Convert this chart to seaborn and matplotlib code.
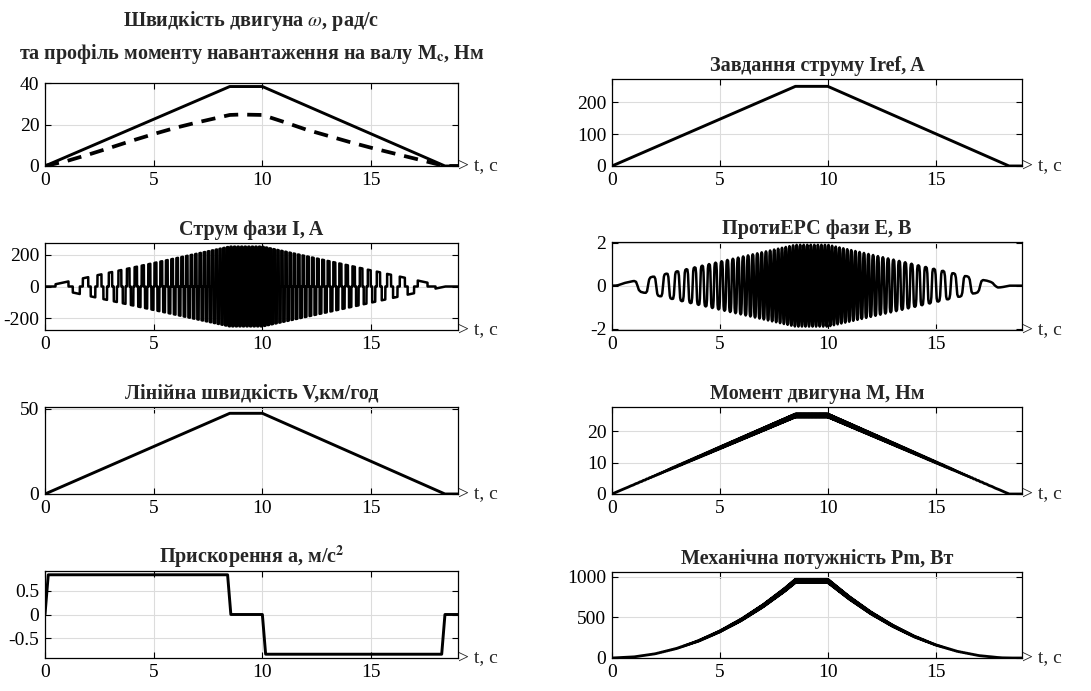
import numpy as np
import pandas as pd
import matplotlib
matplotlib.use("Agg")
import matplotlib.pyplot as plt
from matplotlib.ticker import FormatStrFormatter
import seaborn as sns

# ---------------- data ----------------
# drive-cycle breakpoints (s)
t_prof = [0.0, 8.5, 10.0, 18.4, 19.0]
omega_prof = [0.0, 38.3, 38.3, 0.0, 0.0]      # motor speed, rad/s
iref_prof = [0.0, 249.0, 249.0, 0.0, 0.0]     # current reference, A
v_prof = [0.0, 47.3, 47.3, 0.0, 0.0]          # linear speed, km/h
m_prof = [0.0, 25.0, 25.0, 0.0, 0.0]          # motor torque, Nm

# load torque profile Mc (dashed)
t_mc = [0, 1, 2, 3, 4, 5, 6, 7, 8, 8.5, 9, 10, 11, 12, 13, 14, 15, 16, 17, 18, 18.4, 19]
mc = [0, 2.4, 5.5, 8.8, 12.2, 15.4, 18.4, 21.0, 23.4, 24.6, 24.8, 24.6, 21.2, 17.6, 14.6,
      11.6, 8.8, 6.2, 3.6, 1.0, 0, 0]

# acceleration
t_acc = [0, 0.15, 8.4, 8.55, 10.0, 10.15, 18.25, 18.4, 19.0]
acc = [0, 0.84, 0.84, 0, 0, -0.84, -0.84, 0, 0]

# mechanical power
t_pm = [0, 1, 2, 3, 4, 5, 6, 7, 8, 8.5, 10, 11, 12, 13, 14, 15, 16, 17, 18, 18.4, 19]
pm = [0, 13, 52, 118, 210, 328, 472, 643, 840, 950, 950, 740, 555, 398, 266, 161, 82, 30, 3, 0, 0]

# six-step commutation: phase current level per 60-degree sector (starting at 30 deg)
sector_current = [1, 1, 0, -1, -1, 0]
# back-EMF (rounded trapezoid) shape over one electrical period
emf_deg = [0, 20, 45, 90, 135, 160, 180, 200, 225, 270, 315, 340, 360]
emf_shape = [0, 0.72, 0.96, 1, 0.96, 0.72, 0, -0.72, -0.96, -1, -0.96, -0.72, 0]
emf_peak = 1.9            # V at maximum speed
torque_ripple = 0.02      # relative
power_ripple = 0.022      # relative
ripple_deg = [0, 30, 60]
ripple_shape = [-1, 1, -1]

titles = [
    "Швидкість двигуна $\\omega$, рад/с\nта профіль моменту навантаження на валу M$_\\mathbf{c}$, Нм",
    "Завдання струму Iref, A",
    "Струм фази I, A",
    "ПротиЕРС фази E, B",
    "Лінійна швидкість V,км/год",
    "Момент двигуна M, Нм",
    "Прискорення a, м/с$^\\mathbf{2}$",
    "Механічна потужність Pm, Вт",
]

# ---------------- derived signals ----------------
t = np.linspace(0, 19, 40001)
w = np.interp(t, t_prof, omega_prof)
iref_t = np.interp(t, t_prof, iref_prof)
theta = np.concatenate([[0], np.cumsum(0.5 * (w[1:] + w[:-1]) * np.diff(t))])
deg = np.degrees(theta)
sector = (np.floor(((deg - 30) % 360) / 60)).astype(int)
i_phase = iref_t * np.array(sector_current)[sector]
e_phase = emf_peak * w / max(omega_prof) * np.interp(deg % 360, emf_deg, emf_shape)
rip = np.interp(deg % 60, ripple_deg, ripple_shape)
m_t = np.interp(t, t_prof, m_prof) * (1 + torque_ripple * rip)
pm_t = np.interp(t, t_pm, pm) * (1 + power_ripple * rip)

# ---------------- style ----------------
sns.set_style("ticks")
plt.rcParams["font.family"] = ["Liberation Serif", "DejaVu Serif"]
plt.rcParams["mathtext.fontset"] = "stix"
plt.rcParams["axes.unicode_minus"] = False

fig = plt.figure(figsize=(10.91, 6.91), dpi=100)
W, H = 1091, 691
col_x = [(45, 458), (612, 1022)]
rows = [[(83, 166), (79, 166)], [(243, 330), (242, 330)], [(407, 494), (407, 494)], [(571, 658), (572, 658)]]

axes = []
for r in range(4):
    for c in range(2):
        x0, x1 = col_x[c]
        y0, y1 = rows[r][c]
        ax = fig.add_axes([x0 / W, 1 - y1 / H, (x1 - x0) / W, (y1 - y0) / H])
        axes.append(ax)

lw = 2.1
k = dict(color="black", estimator=None, legend=False)
sns.lineplot(x=t_prof, y=omega_prof, ax=axes[0], lw=lw, **k)
sns.lineplot(x=t_mc, y=mc, ax=axes[0], lw=2.7, **k)
axes[0].lines[-1].set_dashes([3.8, 2.4])
sns.lineplot(x=t_prof, y=iref_prof, ax=axes[1], lw=lw, **k)
sns.lineplot(x=t, y=i_phase, ax=axes[2], lw=1.8, **k)
sns.lineplot(x=t, y=e_phase, ax=axes[3], lw=1.8, **k)
sns.lineplot(x=t_prof, y=v_prof, ax=axes[4], lw=lw, **k)
sns.lineplot(x=t, y=m_t, ax=axes[5], lw=2.0, **k)
sns.lineplot(x=t_acc, y=acc, ax=axes[6], lw=lw, **k)
sns.lineplot(x=t, y=pm_t, ax=axes[7], lw=2.0, **k)

ylims = [(0, 40), (0, 272), (-272, 272), (-2.06, 2.03), (0, 51), (0, 27.7), (-0.92, 0.92), (0, 1060)]
yticks = [[0, 20, 40], [0, 100, 200], [-200, 0, 200], [-2, 0, 2], [0, 50], [0, 10, 20],
          [-0.5, 0, 0.5], [0, 500, 1000]]
for i, (ax, ttl, yl, yt) in enumerate(zip(axes, titles, ylims, yticks)):
    ax.set_xlim(0, 19)
    ax.set_ylim(*yl)
    ax.set_xticks([0, 5, 10, 15])
    ax.set_yticks(yt)
    ax.yaxis.set_major_formatter(FormatStrFormatter("%g"))
    ax.set_xlabel("")
    ax.set_ylabel("")
    ax.grid(True, color="#dcdcdc", lw=0.8)
    ax.set_axisbelow(True)
    ax.tick_params(direction="in", top=True, right=True, length=4, width=0.8,
                   labelsize=14, colors="black", pad=4)
    for s in ax.spines.values():
        s.set_visible(True)
        s.set_linewidth(0.9)
        s.set_color("black")
    if i == 0:
        ax.set_title(ttl, fontsize=14.5, fontweight="bold", pad=17, linespacing=1.55)
    else:
        ax.set_title(ttl, fontsize=14.5, fontweight="bold", pad=6)
    ax.text(1.0, 0.0, "> t, c", transform=ax.transAxes, ha="left", va="center", fontsize=14)

fig.savefig("out.png", dpi=100)
